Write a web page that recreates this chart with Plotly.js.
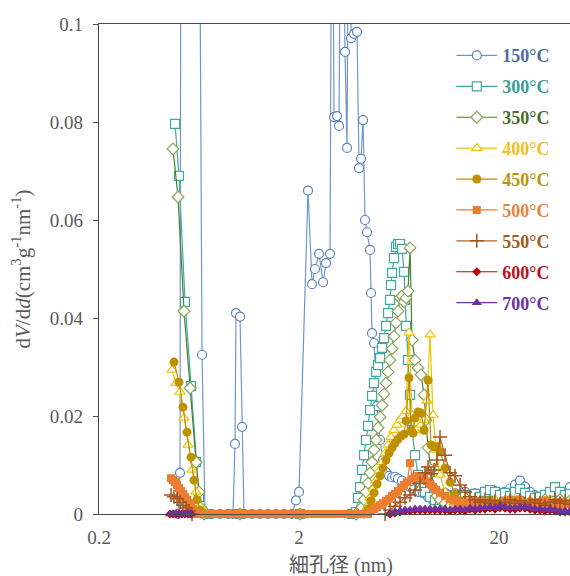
<!DOCTYPE html>
<html>
<head>
<meta charset="utf-8">
<script src="https://cdn.plot.ly/plotly-3.0.1.min.js"></script>
<style>html,body{margin:0;padding:0;background:#fff;}#chart{width:570px;height:576px;}</style>
</head>
<body>
<div id="chart"></div>
<script>
// ---- data: pore diameter (nm) and dV/dd values ----
const seriesNames = ['150°C','300°C','350°C','400°C','450°C','500°C','550°C','600°C','700°C'];
const xTickVals = [0.2, 2, 20];
const xTickText = ['0.2', '2', '20'];

// shared tail grid (large pores)
const tailD = [10.14,10.74,11.38,12.05,12.77,13.52,14.32,15.17,16.07,17.02,18.03,19.09,20.23,21.42,22.70,24.04,25.46,26.97,28.57,30.26,32.05,33.95,35.96,38.09,40.35,42.74,45.27];

const d150 = [0.4967,0.5082,0.5141,0.6326,0.6548,0.6779,0.7350,0.8054,0.8831,0.9354,0.957,0.968,1.014,1.038,1.062,1.164,1.277,1.399,1.534,1.683,1.845,1.932,2.000,2.218,2.323,2.404,2.518,2.637,2.729,2.858,2.925,2.993,3.098,3.170,3.244,3.397,3.476,3.557,3.640,3.767,3.900,3.991,4.084,4.179,4.276,4.376,4.530,4.582,4.635,4.743,4.910,5.083,5.261,5.446,5.637,5.835,6.040,6.253,6.547,6.856,7.179,7.517,7.871,8.337,8.831,9.354,9.909];
const v150 = [0,0.0084,0.15,0.15,0.0325,0,0,0,0,0,0.0143,0.041,0.0403,0.0178,0,0,0,0,0,0,0,0.0028,0.0045,0.066,0.0469,0.050,0.0531,0.0473,0.0512,0.0531,0.15,0.081,0.0812,0.0792,0.15,0.0943,0.0747,0.15,0.0971,0.098,0.0984,0.0706,0.0725,0.0804,0.060,0.0575,0.0539,0.0451,0.0369,0.0349,0.022,0.0151,0.011,0.0085,0.0078,0.0075,0.0076,0.0072,0.0068,0.006,0.0055,0.005,0.0045,0.0042,0.0035,0.0028,0.0030];
const t150 = [0.0030,0.0043,0.0038,0.0042,0.0040,0.0045,0.0038,0.0042,0.0036,0.0044,0.0040,0.0046,0.0042,0.0045,0.0052,0.0060,0.0068,0.0056,0.0045,0.0038,0.0032,0.0038,0.0035,0.0030,0.0012,0.0035,0.0055];

const d300 = [0.480,0.5024,0.5384,0.5769,0.6111,0.6326,0.6548,0.702,1.014,2.023,3.682,3.855,3.945,4.037,4.131,4.227,4.326,4.427,4.530,4.635,4.743,4.854,4.967,5.083,5.201,5.322,5.446,5.573,5.703,5.768,5.835,5.971,6.110,6.253,6.398,6.547,6.700,6.777,6.856,7.016,7.179,7.346,7.604,7.871,8.147,8.531,9.037,9.572];
const v300 = [0.0796,0.069,0.0433,0.0261,0.0106,0.0035,0.0005,0,0,0,0,0.0004,0.0033,0.0055,0.0090,0.0120,0.0151,0.0180,0.0212,0.0241,0.0267,0.0290,0.0304,0.0318,0.0339,0.0359,0.0384,0.0410,0.0437,0.0467,0.0492,0.0522,0.0545,0.0551,0.0551,0.0541,0.0494,0.0437,0.0384,0.0314,0.0243,0.0171,0.0120,0.0080,0.0057,0.0045,0.0035,0.0029];
const t300 = [0.0029,0.0035,0.0031,0.0037,0.0031,0.0039,0.0035,0.0041,0.0035,0.0045,0.0049,0.0045,0.0039,0.0043,0.0037,0.0045,0.0051,0.0043,0.0037,0.0033,0.0035,0.0039,0.0045,0.0055,0.0045,0.0039,0.0041];

const d350 = [0.4689,0.4967,0.5322,0.5703,0.6111,0.6326,0.6548,0.670,1.014,2.023,3.855,4.037,4.131,4.227,4.326,4.427,4.530,4.635,4.743,4.854,4.967,5.083,5.201,5.322,5.446,5.573,5.703,5.835,5.971,6.110,6.253,6.398,6.547,6.700,6.856,7.016,7.179,7.346,7.604,7.871,8.147,8.434,8.630,8.831,9.142,9.463,9.795];
const v350 = [0.0745,0.0647,0.0414,0.0257,0.0106,0.0045,0.0010,0,0,0,0,0.0004,0.0014,0.0029,0.0045,0.0063,0.0084,0.0106,0.0131,0.0151,0.0176,0.0198,0.0222,0.0245,0.0267,0.0290,0.0314,0.0337,0.0363,0.0390,0.0414,0.0441,0.0445,0.0433,0.0441,0.0455,0.0543,0.0355,0.0314,0.0298,0.0284,0.0243,0.0192,0.0135,0.0090,0.0053,0.0037];
const t350 = [0.0029,0.0022,0.0016,0.0020,0.0014,0.0018,0.0022,0.0016,0.0020,0.0018,0.0024,0.0020,0.0016,0.0022,0.0024,0.0018,0.0027,0.0020,0.0024,0.0018,0.0022,0.0029,0.0024,0.0020,0.0029,0.0022,0.0027];

const d400 = [0.4635,0.4853,0.5082,0.5322,0.5573,0.5836,0.6111,0.6399,0.670,1.014,2.023,4.227,4.376,4.530,4.689,4.854,5.025,5.201,5.384,5.573,5.769,5.971,6.181,6.398,6.623,6.856,7.097,7.346,7.604,7.871,8.147,8.434,8.730,9.037,9.354,9.683];
const v400 = [0.0294,0.0267,0.0249,0.0196,0.0141,0.0090,0.0045,0.0016,0,0,0,0,0.0014,0.0033,0.0051,0.0069,0.0088,0.0106,0.0124,0.0141,0.0157,0.0171,0.0182,0.0192,0.0200,0.0210,0.0370,0.0202,0.0171,0.0176,0.0182,0.0192,0.0231,0.0366,0.0202,0.0131];
const t400 = [0.0080,0.0045,0.0029,0.0022,0.0018,0.0022,0.0016,0.0024,0.0018,0.0027,0.0022,0.0029,0.0020,0.0027,0.0018,0.0029,0.0022,0.0018,0.0027,0.0022,0.0016,0.0024,0.0029,0.0020,0.0024,0.0018,0.0022];

const d450 = [0.4743,0.5024,0.5261,0.5509,0.5769,0.5972,0.6182,0.6399,0.670,1.014,2.023,4.227,4.427,4.582,4.743,4.910,5.083,5.261,5.446,5.637,5.835,6.040,6.253,6.472,6.700,6.856,7.097,7.262,7.431,7.604,7.871,8.147,8.434,8.831,9.142,9.463,9.795];
const v450 = [0.0310,0.0269,0.0218,0.0167,0.0116,0.0069,0.0029,0.0008,0,0,0,0,0.0010,0.0027,0.0043,0.0061,0.0078,0.0094,0.0110,0.0124,0.0135,0.0145,0.0153,0.0159,0.0163,0.0190,0.0278,0.0171,0.0165,0.0196,0.0208,0.0206,0.0171,0.0273,0.0141,0.0137,0.0137];
const t450 = [0.0127,0.0094,0.0065,0.0041,0.0027,0.0020,0.0022,0.0018,0.0024,0.0020,0.0027,0.0022,0.0018,0.0024,0.0029,0.0022,0.0027,0.0020,0.0024,0.0018,0.0022,0.0027,0.0020,0.0024,0.0018,0.0022,0.0020];

const d500L = [0.4582,0.4689,0.4798,0.4910,0.5024,0.5141,0.5261,0.5384,0.5509,0.5637,0.5769,0.5903,0.6041];
const v500L = [0.0073,0.0069,0.0065,0.0059,0.0053,0.0047,0.0041,0.0035,0.0029,0.0022,0.0016,0.0010,0.0004];
const d500Z = [0.611,0.640,0.670,0.702,0.735,0.769,0.805,0.843,0.883,0.924,0.968,1.014,1.062,1.111,1.164,1.218,1.277,1.336,1.399,1.465,1.534,1.608,1.683,1.762,1.845,1.932,2.023,2.118,2.218,2.323,2.432,2.547,2.667,2.792,2.925,3.062,3.207,3.358,3.516,3.682,3.855,4.037,4.227];
const v500Z = [0,0,0,0,0,0,0,0,0,0,0,0,0,0,0,0,0,0,0,0,0,0,0,0,0,0,0,0,0,0,0,0,0,0,0,0,0,0,0,0,0,0,0];
const d500R = [4.427,4.582,4.743,4.910,5.083,5.261,5.446,5.637,5.835,6.040,6.253,6.472,6.700,6.935,7.179,7.346,7.604,7.871,8.147,8.434,8.730,9.037,9.354,9.683];
const v500R = [0,0.0006,0.0010,0.0014,0.0018,0.0022,0.0027,0.0031,0.0037,0.0041,0.0047,0.0053,0.0059,0.0065,0.0104,0.0071,0.0076,0.0078,0.0076,0.0073,0.0067,0.0061,0.0055,0.0049];
const t500 = [0.0043,0.0037,0.0031,0.0027,0.0020,0.0024,0.0018,0.0022,0.0027,0.0020,0.0024,0.0018,0.0022,0.0027,0.0020,0.0024,0.0029,0.0022,0.0018,0.0024,0.0020,0.0027,0.0022,0.0018,0.0024,0.0020,0.0022];

const d550 = [0.4582,0.4743,0.4910,0.5082,0.5261,0.5446,0.5637,0.5836,1.0,5.384,5.703,6.040,6.398,6.777,7.179,7.604,8.054,8.531,8.831,9.142,9.463,9.795];
const v550 = [0.0039,0.0035,0.0031,0.0024,0.0018,0.0012,0.0006,0,null,0,0.0008,0.0016,0.0024,0.0033,0.0039,0.0049,0.0063,0.0084,0.0096,0.0082,0.0090,0.0110];
const t550 = [0.0157,0.0120,0.0084,0.0078,0.0059,0.0045,0.0035,0.0029,0.0024,0.0029,0.0022,0.0027,0.0020,0.0024,0.0029,0.0022,0.0027,0.0020,0.0024,0.0029,0.0022,0.0018,0.0024,0.0029,0.0022,0.0027,0.0020];

const d700 = [0.4529,0.4689,0.4853,0.5024,0.5201,0.5384,0.5573,0.5769,1.0,5.703,6.040,6.398,6.777,7.179,7.604,8.054,8.531,9.037,9.572];
const v600 = [0,0,0,0,0,0,0,0,null,0,0.0002,0.0004,0.0006,0.0006,0.0008,0.0008,0.0008,0.0008,0.0008];
const t600 = [0.0008,0.0008,0.0006,0.0008,0.0008,0.0006,0.0010,0.0008,0.0010,0.0010,0.0012,0.0010,0.0014,0.0012,0.0010,0.0010,0.0012,0.0012,0.0010,0.0008,0.0008,0.0006,0.0008,0.0006,0.0004,0.0004,0.0004];
const v700 = [0,0,0,0,0,0,0,0,null,0,0.0004,0.0006,0.0008,0.0008,0.0010,0.0010,0.0010,0.0010,0.0010];
const t700 = [0.0010,0.0010,0.0008,0.0010,0.0010,0.0008,0.0012,0.0010,0.0012,0.0012,0.0014,0.0012,0.0016,0.0014,0.0012,0.0012,0.0014,0.0014,0.0012,0.0010,0.0010,0.0008,0.0010,0.0008,0.0006,0.0006,0.0006];

// ---- styles ----
const styles = [
  {line:'#7096cc', text:'#4e6e9e', marker:{symbol:'circle', size:9, color:'#ffffff', line:{color:'#5b82c0', width:1.2}}},
  {line:'#3fa99b', text:'#3a9e96', marker:{symbol:'square', size:9, color:'#ffffff', line:{color:'#3fa99b', width:1.2}}},
  {line:'#4a7d32', text:'#4b6e30', marker:{symbol:'diamond', size:9, color:'#ffffff', line:{color:'#86a556', width:1.2}}},
  {line:'#f2c200', text:'#f0c020', marker:{symbol:'triangle-up', size:9, color:'#ffffff', line:{color:'#f2c200', width:1.2}}},
  {line:'#bf9000', text:'#b8940f', marker:{symbol:'circle', size:9, color:'#bf9000', line:{width:0}}},
  {line:'#ed7d31', text:'#e8823f', marker:{symbol:'square', size:8, color:'#ed7d31', line:{width:0}}},
  {line:'#b8642a', text:'#a35a22', marker:{symbol:'cross-thin', size:10, color:'#a5541c', line:{color:'#a5541c', width:1.5}}},
  {line:'#c00000', text:'#c0101a', marker:{symbol:'diamond', size:7, color:'#c00000', line:{width:0}}},
  {line:'#7030a0', text:'#7030a0', marker:{symbol:'triangle-up', size:9, color:'#7030a0', line:{width:0}}}
];

const xs = [
  d150.concat(tailD), d300.concat(tailD), d350.concat(tailD), d400.concat(tailD), d450.concat(tailD),
  d500L.concat(d500Z, d500R, tailD), d550.concat(tailD), d700.concat(tailD), d700.concat(tailD)
];
const ys = [
  v150.concat(t150), v300.concat(t300), v350.concat(t350), v400.concat(t400), v450.concat(t450),
  v500L.concat(v500Z, v500R, t500), v550.concat(t550), v600.concat(t600), v700.concat(t700)
];

const traces = seriesNames.map((n, i) => ({
  type:'scatter', mode:'lines+markers',
  x: xs[i], y: ys[i],
  name: '<b><span style="color:' + styles[i].text + '">' + n + '</span></b>',
  legendgroup: 'g' + i,
  line:{color: styles[i].line, width:1.2},
  marker: styles[i].marker,
  cliponaxis:false,
  connectgaps:false,
  hoverinfo:'x+y'
}));

const serif = '"Liberation Serif", "Times New Roman", "Noto Sans CJK JP", serif';
const layout = {
  width:570, height:576,
  margin:{l:99, r:0, t:24, b:62},
  paper_bgcolor:'#ffffff', plot_bgcolor:'#ffffff',
  font:{family:serif, color:'#595959', size:19},
  showlegend:true,
  xaxis:{
    type:'log', range:[Math.log10(0.2), Math.log10(45.27)],
    tickmode:'array', tickvals:xTickVals, ticktext:xTickText,
    showgrid:false, zeroline:false, showline:true, mirror:true,
    linecolor:'#4a4a4a', linewidth:1.3, ticks:'',
    ticklabelstandoff:6, tickfont:{size:19, color:'#595959', family:serif}
  },
  yaxis:{
    range:[0, 0.1], tick0:0, dtick:0.02,
    showgrid:false, zeroline:false, showline:true,
    linecolor:'#4a4a4a', linewidth:1.3, ticks:'outside', ticklen:5, tickcolor:'#4a4a4a',
    ticklabelstandoff:6, tickfont:{size:19, color:'#595959', family:serif},
    title:{text:'d<i>V</i>/d<i>d</i>(cm<sup>3</sup>g<sup>-1</sup>nm<sup>-1</sup>)', font:{size:21, color:'#595959', family:serif}, standoff:13}
  },
  legend:{
    x:0.748, y:0.973, xanchor:'left', yanchor:'top',
    bgcolor:'rgba(255,255,255,0.92)', borderwidth:0,
    traceorder:'grouped', tracegroupgap:4.5, itemwidth:41,
    font:{size:18, family:serif}
  },
  annotations:[{
    text:'細孔径 (nm)', xref:'paper', yref:'paper', x:0.514, y:-0.106,
    xanchor:'center', yanchor:'middle', showarrow:false,
    font:{size:20, color:'#595959', family:serif}
  }]
};

Plotly.newPlot('chart', traces, layout, {displayModeBar:false, staticPlot:true});
</script>
</body>
</html>
